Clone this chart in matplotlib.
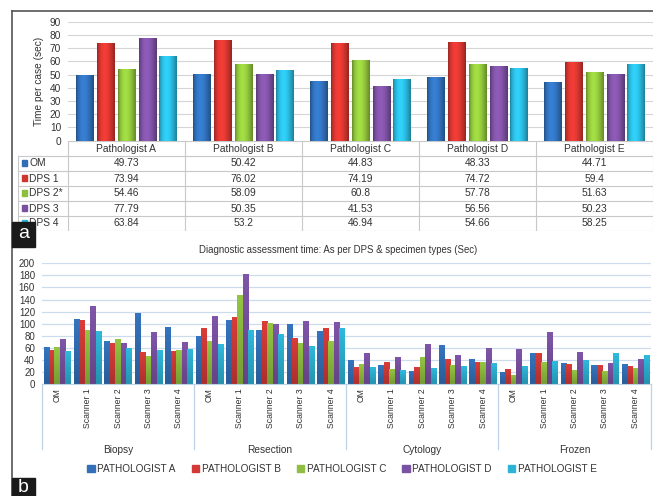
import numpy as np
import matplotlib.pyplot as plt
from matplotlib.colors import to_rgb
from matplotlib.lines import Line2D
from matplotlib.patches import Rectangle

plt.rcParams["font.family"] = ["Liberation Sans", "DejaVu Sans"]

W, H = 653, 496

# --- panel a: mean time per case by pathologist and system ---
PATHOLOGISTS = ["Pathologist A", "Pathologist B", "Pathologist C", "Pathologist D", "Pathologist E"]
SYSTEMS = ["OM", "DPS 1", "DPS 2*", "DPS 3", "DPS 4"]
OM = [49.73, 50.42, 44.83, 48.33, 44.71]
DPS_1 = [73.94, 76.02, 74.19, 74.72, 59.4]
DPS_2 = [54.46, 58.09, 60.8, 57.78, 51.63]
DPS_3 = [77.79, 50.35, 41.53, 56.56, 50.23]
DPS_4 = [63.84, 53.2, 46.94, 54.66, 58.25]

# --- panel b: time per specimen type and scanner ---
SPECIMENS = ["Biopsy", "Resection", "Cytology", "Frozen"]
METHODS = ["OM", "Scanner 1", "Scanner 2", "Scanner 3", "Scanner 4"]
READERS = ["PATHOLOGIST A", "PATHOLOGIST B", "PATHOLOGIST C", "PATHOLOGIST D", "PATHOLOGIST E"]
PATH_A = [61, 108, 71, 118, 94, 80, 106, 90, 99, 88, 40, 31, 22, 65, 41, 20, 51, 35, 31, 33]
PATH_B = [57, 106, 68, 53, 55, 93, 111, 104, 76, 93, 28, 36, 28, 41, 36, 25, 51, 33, 31, 30]
PATH_C = [61, 90, 75, 46, 56, 71, 148, 101, 68, 71, 33, 25, 45, 31, 36, 15, 36, 23, 22, 27]
PATH_D = [75, 129, 68, 86, 70, 113, 182, 99, 104, 103, 51, 45, 66, 48, 60, 58, 86, 53, 35, 41]
PATH_E = [55, 88, 59, 56, 58, 66, 90, 83, 63, 93, 28, 23, 27, 30, 35, 30, 38, 40, 51, 48]

COLORS_A = ["#2f6db5", "#d0342f", "#8cbf3a", "#7a4f9e", "#29b3d6"]
COLORS_B = ["#3370b8", "#d23a37", "#8fbe40", "#7b52a3", "#2db3d5"]


def box(x0, y0, x1, y1):
    return [x0 / W, 1 - y1 / H, (x1 - x0) / W, (y1 - y0) / H]


def shade(c, f):
    r = np.clip(np.array(to_rgb(c)) * f, 0, 1)
    return r


def gradient_bars(ax, bars, color, horizontal):
    # paint each bar with a shaded image clipped to its own rectangle
    if horizontal:
        t = np.linspace(0, 1, 48)
        prof = 0.72 + 0.45 * np.sin(np.pi * t ** 0.8)
        img = np.array([[shade(color, f) for f in prof]])
    else:
        t = np.linspace(0, 1, 48)
        prof = 0.82 + 0.22 * t
        img = np.array([[shade(color, f)] for f in prof])
    for b in bars:
        x, y = b.get_x(), b.get_y()
        w, h = b.get_width(), b.get_height()
        im = ax.imshow(img, extent=[x, x + w, y, y + h], origin="lower",
                       aspect="auto", zorder=b.get_zorder(), interpolation="bilinear")
        im.set_clip_path(b)


fig = plt.figure(figsize=(W / 100, H / 100), dpi=100)

# outer frame
fig.add_artist(Line2D([12 / W, 12 / W], [0, 1 - 10.5 / H], color="#555555", lw=1.2))
fig.add_artist(Line2D([12 / W, 1], [1 - 10.5 / H, 1 - 10.5 / H], color="#555555", lw=1.2))

# ---------------- panel a chart ----------------
ax = fig.add_axes(box(68, 21.7, 653, 140.7))
series_a = [OM, DPS_1, DPS_2, DPS_3, DPS_4]
x = np.arange(len(PATHOLOGISTS)) + 0.5
step, bw = 0.177, 0.148
for j, vals in enumerate(series_a):
    bars = ax.bar(x + (j - 2) * step, vals, bw, color=COLORS_A[j], zorder=2)
    gradient_bars(ax, bars, COLORS_A[j], horizontal=True)
ax.set_xlim(0, 5)
ax.set_ylim(0, 90)
ax.set_yticks(range(0, 91, 10))
ax.set_xticks([])
ax.grid(axis="y", color="#d5d5d5", lw=0.8, zorder=0)
for s in ax.spines.values():
    s.set_visible(False)
ax.tick_params(axis="y", length=0, labelsize=7.3, pad=5, colors="#333333")
ax.set_ylabel("Time per case (sec)", fontsize=7.3, color="#333333", labelpad=4)

# table under panel a
tax = fig.add_axes(box(18, 140.7, 653, 230.7))
left = -50 / 117
tax.set_xlim(left, 5)
tax.set_ylim(6, 0)
tax.axis("off")
grid_kw = dict(color="#c8c8c8", lw=0.8)
tax.plot([0, 5], [0, 0], **grid_kw)
for r in range(1, 7):
    tax.plot([left, 5], [r, r], **grid_kw)
for c in range(6):
    tax.plot([c, c], [0, 6], **grid_kw)
tax.plot([left, left], [1, 6], **grid_kw)
for i, name in enumerate(PATHOLOGISTS):
    tax.text(i + 0.5, 0.52, name, ha="center", va="center", fontsize=7.4, color="#333333")
for r, (name, vals) in enumerate(zip(SYSTEMS, series_a)):
    tax.add_patch(Rectangle((left + 3.5 / 117, r + 1.3), 5 / 117, 0.4,
                            color=COLORS_A[r], zorder=3))
    tax.text(left + 11 / 117, r + 1.52, name, ha="left", va="center",
             fontsize=7.4, color="#333333")
    for i, v in enumerate(vals):
        tax.text(i + 0.5, r + 1.52, f"{v:g}", ha="center", va="center",
                 fontsize=7.4, color="#333333")

# ---------------- panel b chart ----------------
bx = fig.add_axes(box(42, 263.3, 650.5, 384))
series_b = [PATH_A, PATH_B, PATH_C, PATH_D, PATH_E]
pos = np.arange(len(SPECIMENS) * len(METHODS))
bw_b = 0.18
for j, vals in enumerate(series_b):
    bars = bx.bar(pos + (j - 2) * bw_b, vals, bw_b, color=COLORS_B[j],
                  label=READERS[j], zorder=2)
    gradient_bars(bx, bars, COLORS_B[j], horizontal=False)
bx.set_xlim(-0.5, len(pos) - 0.5)
bx.set_ylim(0, 200)
bx.set_yticks(range(0, 201, 20))
bx.set_xticks(pos)
bx.set_xticklabels(METHODS * len(SPECIMENS), rotation=90, fontsize=6.2, color="#333333")
bx.grid(axis="y", color="#cddcec", lw=0.9, zorder=0)
for s in ["top", "right", "left"]:
    bx.spines[s].set_visible(False)
bx.spines["bottom"].set_color("#bfd2e6")
bx.tick_params(axis="x", length=0, pad=3)
bx.tick_params(axis="y", length=0, labelsize=7, pad=5, colors="#333333")

# specimen group separators and labels
n = len(METHODS)
for g in range(len(SPECIMENS) + 1):
    bx.plot([g * n - 0.5] * 2, [0, -0.54], transform=bx.get_xaxis_transform(),
            color="#bfd2e6", lw=0.9, clip_on=False)
for g, name in enumerate(SPECIMENS):
    bx.text(g * n + (n - 1) / 2, -0.545, name, transform=bx.get_xaxis_transform(),
            ha="center", va="center", fontsize=7.3, color="#333333")

fig.text(338 / W, 1 - 250 / H, "Diagnostic assessment time: As per DPS & specimen types (Sec)",
         ha="center", va="center", fontsize=6.9, color="#333333")

handles = [Rectangle((0, 0), 1, 1, color=c) for c in COLORS_B]
fig.legend(handles, READERS, loc="center", bbox_to_anchor=(342 / W, 1 - 469 / H),
           ncol=5, frameon=False, fontsize=7.2, handlelength=0.75, handleheight=0.75,
           handletextpad=0.25, columnspacing=1.6, labelcolor="#333333")

# panel letters
for letter, (y0, y1, yc) in {"a": (222, 246.5, 233), "b": (478, 500, 487)}.items():
    fig.add_artist(Rectangle((12 / W, 1 - y1 / H), 23 / W, (y1 - y0) / H,
                             transform=fig.transFigure, color="#1a1a1a", zorder=5))
    fig.text(23.5 / W, 1 - yc / H, letter, ha="center", va="center",
             fontsize=14, color="white", zorder=6)

fig.savefig("out.png", dpi=100)
